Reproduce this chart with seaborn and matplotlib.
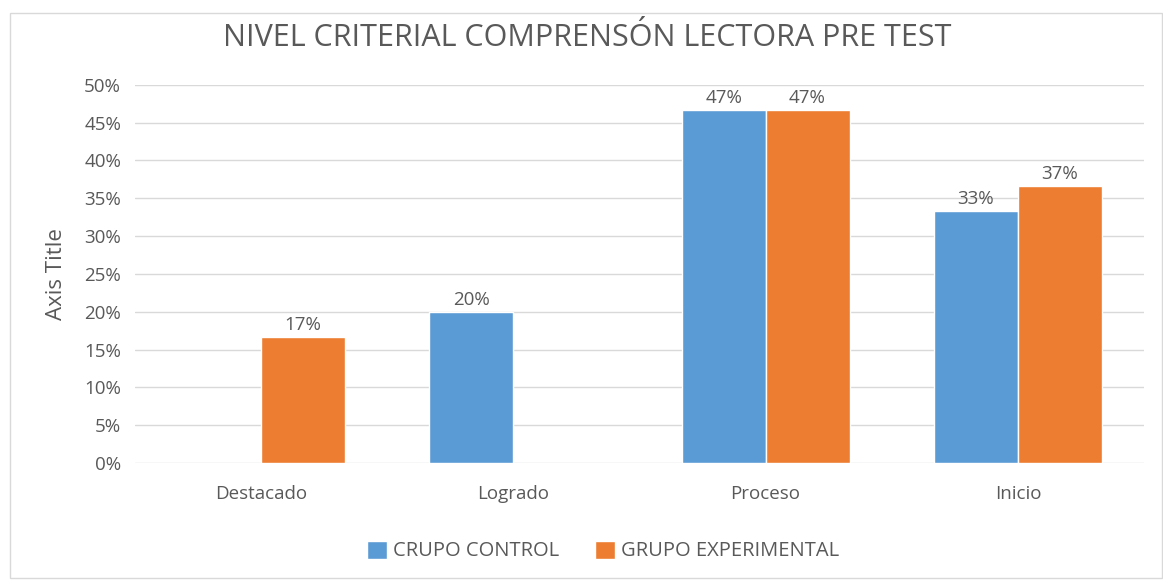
import matplotlib.pyplot as plt
import matplotlib.patches as mpatches
import pandas as pd
import numpy as np
import seaborn as sns

# data
categorias = ['Destacado', 'Logrado', 'Proceso', 'Inicio']
grupos = ['CRUPO CONTROL', 'GRUPO EXPERIMENTAL']
control = [np.nan, 0.20, 0.4667, 0.3333]
experimental = [0.1667, np.nan, 0.4667, 0.3667]

df = pd.DataFrame({
    'nivel': categorias * 2,
    'grupo': [grupos[0]] * 4 + [grupos[1]] * 4,
    'valor': control + experimental,
})

sns.set_style('white')
plt.rcParams['font.family'] = ['Open Sans', 'DejaVu Sans']
gray = '#595959'

fig = plt.figure(figsize=(11.63, 5.81), dpi=100)
ax = fig.add_axes([0.116, 0.203, 0.8677, 0.651])

sns.barplot(data=df, x='nivel', y='valor', hue='grupo', order=categorias, hue_order=grupos,
            palette=['#5B9BD5', '#ED7D31'], width=0.665, saturation=1, ax=ax, legend=True)

for cont in ax.containers:
    labels = ['' if np.isnan(b.get_height()) or b.get_height() == 0 else f'{b.get_height():.0%}'
              for b in cont]
    ax.bar_label(cont, labels=labels, padding=2, fontsize=13.5, color=gray)

ax.set_ylim(0, 0.5)
ax.set_yticks(np.arange(0, 0.51, 0.05))
ax.set_yticklabels([f'{int(round(t * 100))}%' for t in np.arange(0, 0.51, 0.05)])
ax.yaxis.grid(True, color='#D9D9D9', linewidth=1)
ax.set_axisbelow(True)
for s in ax.spines.values():
    s.set_visible(False)
ax.tick_params(axis='both', length=0, labelsize=13.5, colors=gray, pad=10)
ax.tick_params(axis='x', pad=16)
ax.set_xlabel('')
ax.set_ylabel('Axis Title', fontsize=16, color=gray, labelpad=12)

ax.legend(loc='upper center', bbox_to_anchor=(0.464, -0.157), ncol=2, frameon=False,
          fontsize=14.5, labelcolor=gray, handlelength=1, handleheight=1, columnspacing=1.8,
          handletextpad=0.3)

fig.text(0.505, 0.934, 'NIVEL CRITERIAL COMPRENSÓN LECTORA PRE TEST', ha='center', va='center',
         fontsize=22, color=gray)

fig.patches.append(mpatches.Rectangle((0.009, 0.005), 0.99, 0.972, transform=fig.transFigure,
                                      fill=False, edgecolor='#D9D9D9', linewidth=1))

fig.savefig('out.png', dpi=100, facecolor='white')
